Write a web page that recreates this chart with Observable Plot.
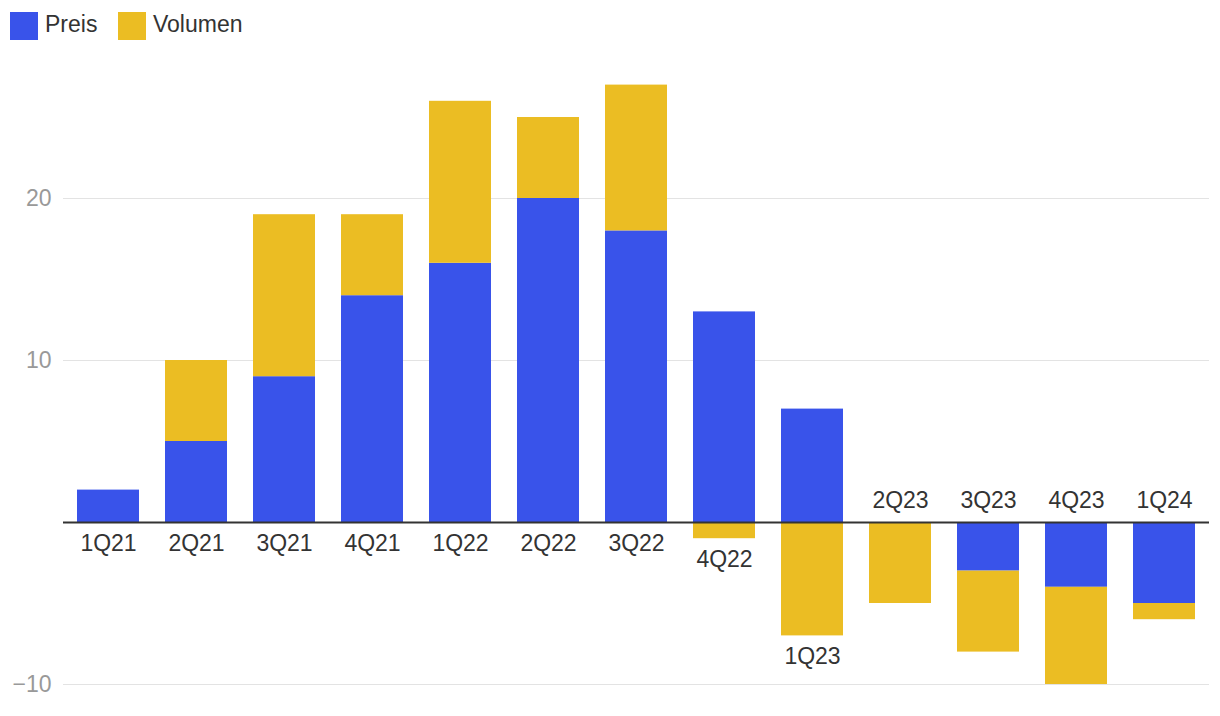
<!DOCTYPE html>
<html>
<head>
<meta charset="utf-8">
<script src="https://cdn.jsdelivr.net/npm/d3@7"></script>
<script src="https://cdn.jsdelivr.net/npm/@observablehq/plot@0.6"></script>
<style>
  body { margin: 0; background: #fff; font-family: "Liberation Sans", Arial, Helvetica, sans-serif; }
  #legend { height: 50px; position: relative; }
  .sw { position: absolute; top: 12px; width: 28px; height: 28px; }
  .lt { position: absolute; top: 10px; font-size: 23px; color: #333; line-height: 28px; }
  svg { display: block; }
</style>
</head>
<body>
<div id="legend"></div>
<div id="chart"></div>
<script>
const quarters = ["1Q21","2Q21","3Q21","4Q21","1Q22","2Q22","3Q22","4Q22","1Q23","2Q23","3Q23","4Q23","1Q24"];
const preis   = [2, 5, 9, 14, 16, 20, 18, 13, 7, 0, -3, -4, -5];
const volumen = [0, 5, 10, 5, 10, 5, 9, -1, -7, -5, -5, -6, -1];
const seriesNames = ["Preis", "Volumen"];
const seriesColors = ["#3953ea", "#ebbd23"];
const yTicks = [20, 10, -10];

// legend
const legend = document.getElementById("legend");
const legendX = [10, 118];
seriesNames.forEach((name, i) => {
  const sw = document.createElement("div");
  sw.className = "sw"; sw.style.left = legendX[i] + "px"; sw.style.background = seriesColors[i];
  const t = document.createElement("div");
  t.className = "lt"; t.style.left = (legendX[i] + 35) + "px"; t.textContent = name;
  legend.appendChild(sw); legend.appendChild(t);
});

const rows = [];
quarters.forEach((q, i) => {
  rows.push({q, series: "Preis", value: preis[i]});
  rows.push({q, series: "Volumen", value: volumen[i]});
});

const labels = quarters.map((q, i) => {
  const vals = [preis[i], volumen[i]];
  const net = vals[0] + vals[1];
  const negSum = vals.filter(v => v < 0).reduce((a, b) => a + b, 0);
  return {q, y: net >= 0 ? negSum : 0, below: net >= 0};
});

const chart = Plot.plot({
  width: 1220,
  height: 666,
  marginLeft: 63,
  marginRight: 11,
  marginTop: 34.6,
  marginBottom: 32,
  style: {fontFamily: "'Liberation Sans', Arial, Helvetica, sans-serif", fontSize: "23px", background: "#fff"},
  x: {domain: quarters, padding: 0.3, paddingOuter: 0.15, axis: null},
  y: {domain: [-10, 27]},
  color: {domain: seriesNames, range: seriesColors},
  marks: [
    Plot.ruleY(yTicks, {stroke: "#e3e3e3", strokeWidth: 1.2}),
    Plot.axisY(yTicks, {tickSize: 0, tickPadding: 12, fill: "#999", fontSize: 23, label: null}),
    Plot.barY(rows, {x: "q", y: "value", fill: "series", order: seriesNames}),
    Plot.ruleY([0], {stroke: "#333", strokeWidth: 2}),
    Plot.text(labels.filter(d => d.below), {x: "q", y: "y", text: "q", dy: 21, fill: "#333", fontSize: 23}),
    Plot.text(labels.filter(d => !d.below), {x: "q", y: "y", text: "q", dy: -22, fill: "#333", fontSize: 23})
  ]
});
document.getElementById("chart").appendChild(chart);
</script>
</body>
</html>
